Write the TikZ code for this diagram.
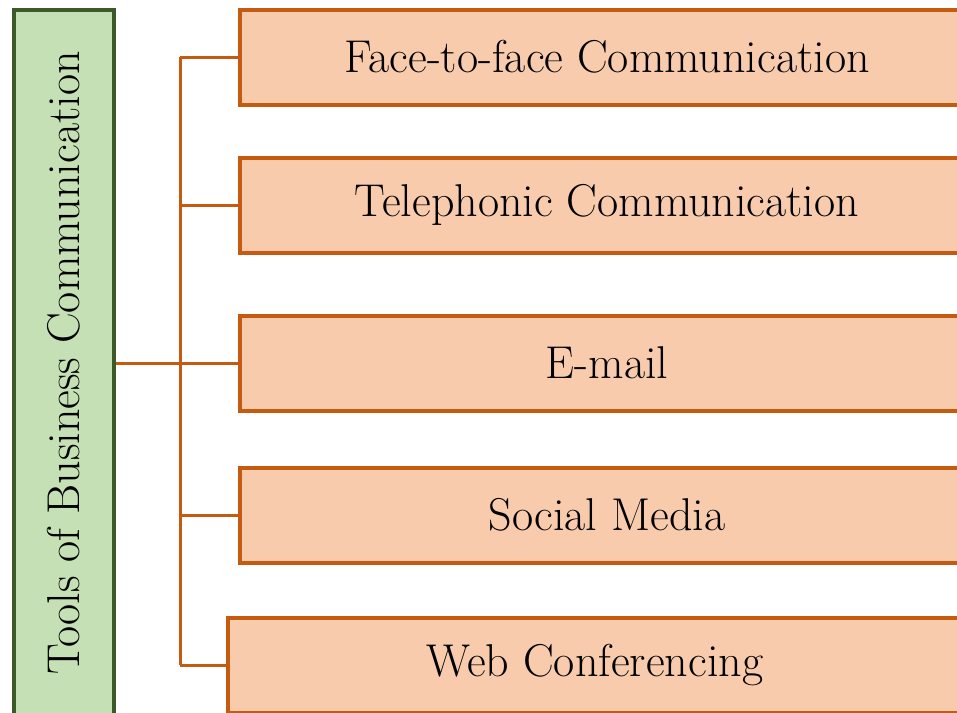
\documentclass[tikz,border=0pt]{standalone}
\usepackage{tikz}
\usepackage{color}

\definecolor{boxfill}{HTML}{F8CBAD}
\definecolor{boxline}{HTML}{C55A11}
\definecolor{titlefill}{HTML}{C5E0B4}
\definecolor{titleline}{HTML}{3B5A27}

\tikzset{
  toolbox/.style={draw=boxline, fill=boxfill, line width=4pt,
    minimum width=734pt, minimum height=95pt, inner sep=0pt,
    font=\fontsize{46}{54}\selectfont},
  titlebox/.style={draw=titleline, fill=titlefill, line width=4pt,
    rotate=90, minimum width=706pt, minimum height=100pt, inner sep=0pt,
    font=\fontsize{46}{54}\selectfont},
  link/.style={draw=boxline, line width=3pt}
}

\begin{document}
\begin{tikzpicture}[x=1pt,y=-1pt]
\useasboundingbox (0,0) rectangle (957,712);
\node[titlebox] (title) at (64,363) {Tools of Business Communication};
\node[toolbox] (face) at (607,57) {Face-to-face Communication};
\node[toolbox] (phone) at (607,205) {Telephonic Communication};
\node[toolbox] (email) at (607,363) {E-mail};
\node[toolbox] (social) at (607,515) {Social Media};
\node[toolbox] (web) at (595,665) {Web Conferencing};
\coordinate (spine) at (180,0);
\draw[link] (face.west -| spine) -- (web.west -| spine);
\foreach \b in {face,phone,email,social,web}
  \draw[link] (\b.west -| spine) -- (\b.west);
\draw[link] (title.south) -- (email.west);
\end{tikzpicture}
\end{document}
